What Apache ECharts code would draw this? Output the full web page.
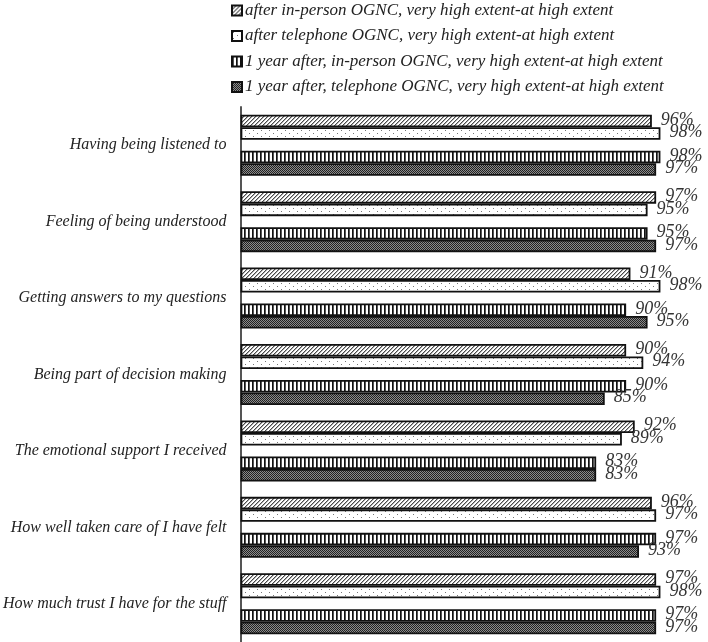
<!DOCTYPE html>
<html>
<head>
<meta charset="utf-8">
<script src="https://cdn.jsdelivr.net/npm/echarts@6/dist/echarts.min.js"></script>
<style>
html,body{margin:0;padding:0;background:#fff;}
#chart{width:708px;height:642px;}
</style>
</head>
<body>
<div id="chart"></div>
<script>
const categories = [
  "Having being listened to",
  "Feeling of being understood",
  "Getting answers to my questions",
  "Being part of decision making",
  "The emotional support I received",
  "How well taken care of I have felt",
  "How much trust I have for the stuff"
];
const seriesNames = [
  "after in-person OGNC, very high extent-at high extent",
  "after telephone OGNC, very high extent-at high extent",
  "1 year after, in-person OGNC, very high extent-at high extent",
  "1 year after, telephone OGNC, very high extent-at high extent"
];
const afterInPerson = [96, 97, 91, 90, 92, 96, 97];
const afterTelephone = [98, 95, 98, 94, 89, 97, 98];
const yearInPerson = [98, 95, 90, 90, 83, 97, 97];
const yearTelephone = [97, 97, 95, 85, 83, 93, 97];

function makePattern(kind) {
  const c = document.createElement('canvas');
  const ctx = c.getContext('2d');
  if (kind === 'diag') {
    c.width = 4; c.height = 4;
    ctx.fillStyle = '#fff'; ctx.fillRect(0,0,4,4);
    ctx.fillStyle = '#4a4a4a';
    for (let i = 0; i < 4; i++) { ctx.fillRect(3 - i, i, 1, 1); }
    ctx.fillStyle = '#b0b0b0';
    for (let i = 0; i < 4; i++) { ctx.fillRect((4 - i) % 4, i, 1, 1); }
  } else if (kind === 'dots') {
    c.width = 8; c.height = 6;
    ctx.fillStyle = '#fff'; ctx.fillRect(0,0,8,6);
    ctx.fillStyle = '#777';
    ctx.fillRect(1, 1, 1, 1);
    ctx.fillRect(5, 4, 1, 1);
  } else if (kind === 'vert') {
    c.width = 4; c.height = 4;
    ctx.fillStyle = '#fff'; ctx.fillRect(0,0,4,4);
    ctx.fillStyle = '#111'; ctx.fillRect(0,0,1,4);
    ctx.fillStyle = '#555'; ctx.fillRect(1,0,1,4);
  } else {
    c.width = 2; c.height = 2;
    ctx.fillStyle = '#8a8a8a'; ctx.fillRect(0,0,2,2);
    ctx.fillStyle = '#222'; ctx.fillRect(0,0,1,1); ctx.fillRect(1,1,1,1);
  }
  return { image: c, repeat: 'repeat' };
}

const patterns = [makePattern('diag'), makePattern('dots'), makePattern('vert'), makePattern('cross')];
const values = [afterInPerson, afterTelephone, yearInPerson, yearTelephone];

const labelStyle = {
  show: true,
  position: 'right',
  distance: 9,
  formatter: '{c}%',
  fontFamily: 'Liberation Serif',
  fontStyle: 'italic',
  fontSize: 18,
  color: '#333',
  offset: [0, -1]
};

function realSeries(i) {
  return {
    name: seriesNames[i],
    type: 'bar',
    data: values[i],
    barWidth: 12.5,
    barGap: '0%',
    itemStyle: { color: patterns[i], borderColor: '#111', borderWidth: 1.8 },
    label: Object.assign({}, labelStyle),
    emphasis: { disabled: true },
    animation: false
  };
}

const series = [
  realSeries(0),
  realSeries(1),
  { name: 'gap', type: 'bar', data: categories.map(() => null), barWidth: 11, barGap: '0%', silent: true, animation: false },
  realSeries(2),
  realSeries(3)
];

const chart = echarts.init(document.getElementById('chart'), null, { renderer: 'canvas' });
chart.setOption({
  animation: false,
  backgroundColor: '#fff',
  legend: {
    data: seriesNames,
    orient: 'vertical',
    left: 226,
    top: -3,
    itemWidth: 10,
    itemHeight: 10,
    itemGap: 8.5,
    icon: 'rect',
    textStyle: { fontFamily: 'Liberation Serif', fontStyle: 'italic', fontSize: 17, color: '#222', lineHeight: 16, padding: [0,0,0,-2] },
    selectedMode: false
  },
  grid: { left: 239, right: 39, top: 107, height: 544, containLabel: false },
  xAxis: {
    type: 'value', min: 0, max: 100, show: false
  },
  yAxis: {
    type: 'category',
    data: categories,
    inverse: true,
    axisLine: { show: true, lineStyle: { color: '#555', width: 2 } },
    axisTick: { show: false },
    axisLabel: { margin: 14, fontFamily: 'Liberation Serif', fontStyle: 'italic', fontSize: 16, color: '#222' },
    splitLine: { show: false }
  },
  series: series
});
</script>
</body>
</html>
